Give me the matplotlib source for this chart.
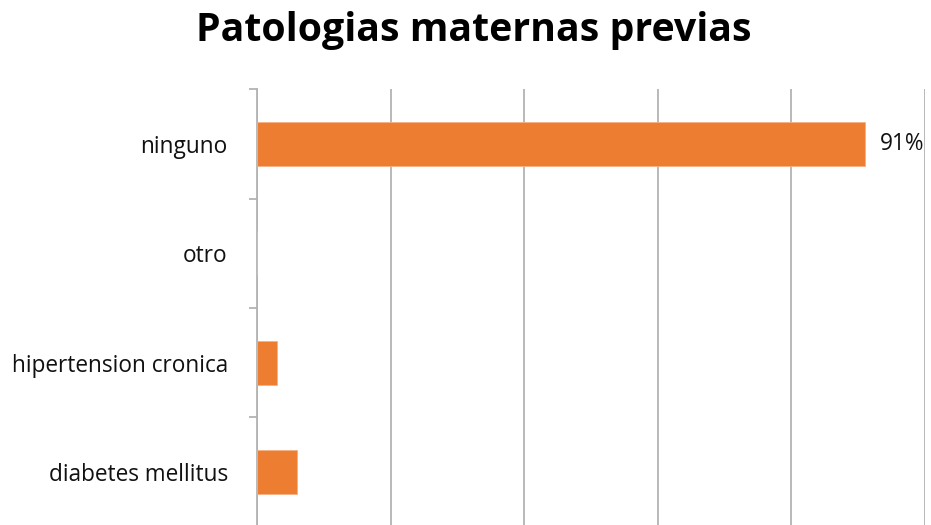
import matplotlib
matplotlib.use("Agg")
import matplotlib.pyplot as plt
import numpy as np

categories = ["diabetes mellitus", "hipertension cronica", "otro", "ninguno"]
values = [6, 3, 0, 91]
shown_labels = ["", "", "", "91%"]
title = "Patologias maternas previas"

plt.rcParams['font.family'] = ['Open Sans', 'DejaVu Sans']

fig = plt.figure(figsize=(9.31, 5.25), dpi=100)
top_px, bot_px = 89.3, 526.7
ax = fig.add_axes([257/931, (525-bot_px)/525, (925-257)/931, (bot_px-top_px)/525])

y = np.arange(len(categories))
bars = ax.barh(y, values, height=0.4, color="#ED7D31", edgecolor="#F4B183", linewidth=0.6, zorder=3)

ax.set_xlim(0, 100)
ax.set_ylim(-0.5, len(categories) - 0.5)
ax.set_xticks(np.arange(0, 101, 20))
ax.xaxis.set_tick_params(length=0, labelbottom=False)
ax.grid(axis="x", color="#B3B3B3", linewidth=1.3, zorder=0)

ax.set_yticks(y)
ax.set_yticklabels(categories, fontsize=16.3, color="#111111")
ax.set_yticks(np.arange(-0.5, len(categories), 1), minor=True)
ax.tick_params(axis="y", which="major", length=0, pad=21)
ax.tick_params(axis="y", which="minor", length=6, width=1.3, color="#B3B3B3")

for s in ["top", "right", "bottom"]:
    ax.spines[s].set_visible(False)
ax.spines["left"].set_color("#B3B3B3")
ax.spines["left"].set_linewidth(1.3)

for b, lab in zip(bars, shown_labels):
    if lab:
        ax.text(b.get_width() + 2.3, b.get_y() + b.get_height() / 2, lab,
                va="center", ha="left", fontsize=16.3, color="#111111")

fig.text(474/931, 1 - 31/525, title, ha="center", va="center",
         fontsize=28.3, fontweight="bold", color="#000000")

fig.savefig("out.png", dpi=100)
